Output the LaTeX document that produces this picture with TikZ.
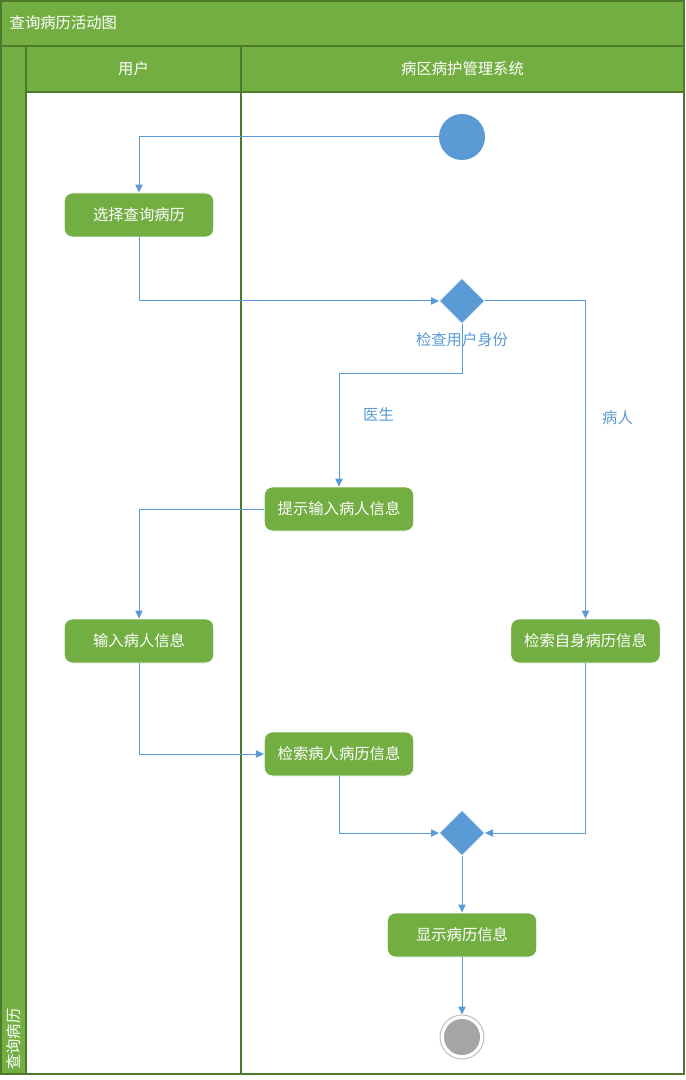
\documentclass[tikz,border=0pt]{standalone}
\usepackage{fontspec}
\newfontfamily\cjk{Noto Sans CJK SC}
\usetikzlibrary{shapes.geometric,arrows.meta}
\definecolor{lanegreen}{HTML}{72AE42}
\definecolor{laneedge}{HTML}{4E7A2C}
\definecolor{flowblue}{HTML}{5B9BD5}
\definecolor{endgray}{HTML}{A5A5A5}
\definecolor{ringgray}{HTML}{BFBFBF}
\tikzset{
  band/.style={fill=lanegreen, draw=laneedge, line width=1.1pt},
  lanebody/.style={fill=white, draw=laneedge, line width=1.1pt},
  headtext/.style={text=white, font=\cjk\fontsize{11.5}{13}\selectfont},
  action/.style={rectangle, rounded corners=6pt, fill=lanegreen, draw=white, line width=0.6pt,
    minimum width=112pt, minimum height=33pt, inner sep=0pt, text=white,
    font=\cjk\fontsize{11.5}{13}\selectfont},
  decision/.style={diamond, fill=flowblue, draw=white, line width=0.5pt, minimum width=34pt,
    minimum height=34pt, inner sep=0pt},
  flow/.style={draw=flowblue, line width=0.75pt, -{Triangle[length=6pt,width=5.5pt]}},
  guard/.style={text=flowblue, font=\cjk\fontsize{11.5}{13}\selectfont, inner sep=1pt}
}
\begin{document}
\begin{tikzpicture}[x=0.75pt,y=-0.75pt]
\useasboundingbox (0,0) rectangle (685,1080);
\fill[white] (0,0) rectangle (685,1080);
% pool frame, title bar and swimlanes
\draw[band] (1,1) rectangle (684,1074);
\draw[band] (1,1) rectangle (684,46);
\draw[band] (1,46) rectangle (26,1074);
\draw[band] (26,46) rectangle (241,92);
\draw[band] (241,46) rectangle (684,92);
\draw[lanebody] (26,92) rectangle (241,1074);
\draw[lanebody] (241,92) rectangle (684,1074);
\node[headtext, anchor=west] (title) at (5,23) {查询病历活动图};
\node[headtext] (laneA) at (133.5,69) {用户};
\node[headtext] (laneB) at (462.5,69) {病区病护管理系统};
\node[headtext, rotate=90, anchor=west, inner sep=0pt] (pool) at (13.5,1070) {查询病历};
% activity nodes
\node[circle, fill=flowblue, minimum size=34.5pt, inner sep=0pt] (start) at (462,137) {};
\node[action] (sel) at (139,215) {选择查询病历};
\node[decision] (d1) at (462,301) {};
\node[action] (prompt) at (339,509) {提示输入病人信息};
\node[action] (input) at (139,641) {输入病人信息};
\node[action] (self) at (585.5,641) {检索自身病历信息};
\node[action] (search) at (339,754) {检索病人病历信息};
\node[decision] (d2) at (462,833) {};
\node[action] (show) at (462,935) {显示病历信息};
\node[circle, fill=white, draw=ringgray, line width=0.75pt, minimum size=33pt, inner sep=0pt] (stop) at (462,1037) {};
\fill[endgray] (stop.center) circle (18);
% control flows
\coordinate (bend) at (462,373);
\draw[flow] (start.west) -| (sel.north);
\draw[flow] (sel.south) |- (d1.west);
\draw[flow] (d1.south) -- (bend) -| (prompt.north);
\draw[flow] (d1.east) -| (self.north);
\draw[flow] (prompt.west) -| (input.north);
\draw[flow] (input.south) |- (search.west);
\draw[flow] (search.south) |- (d2.west);
\draw[flow] (self.south) |- (d2.east);
\draw[flow] (d2.south) -- (show.north);
\draw[flow] (show.south) -- (stop.north);
% guard labels
\node[guard] (check) at (462,340) {检查用户身份};
\node[guard] (doctor) at (378.5,414) {医生};
\node[guard] (patient) at (617.5,418) {病人};
\end{tikzpicture}
\end{document}
